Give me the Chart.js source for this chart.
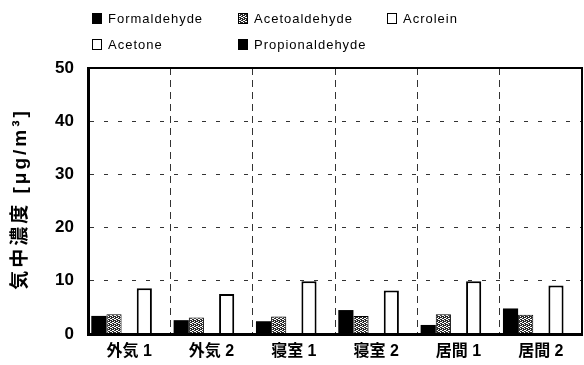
<!DOCTYPE html>
<html>
<head>
<meta charset="utf-8">
<title>気中濃度</title>
<script src="https://cdn.jsdelivr.net/npm/chart.js@4/dist/chart.umd.min.js"></script>
<style>
  html, body { margin: 0; padding: 0; background: #fff; }
  #wrap { position: relative; width: 584px; height: 365px; }
  #legend {
    position: absolute; left: 0; top: 0; width: 584px; height: 60px;
    font: 13px "Liberation Sans", Arial, sans-serif; letter-spacing: 1px; color: #000;
  }
  .item { position: absolute; display: flex; align-items: center; height: 16px; white-space: nowrap; }
  .sw { width: 10px; height: 11px; box-sizing: border-box; border: 1px solid #000; margin-right: 6px; }
  #ytitle {
    position: absolute; left: 16px; top: 199px; width: 220px; height: 24px;
    margin-left: -110px; margin-top: -12px; line-height: 24px; text-align: center;
    transform: rotate(-90deg); white-space: nowrap;
    font: bold 19px "Liberation Sans", Arial, "Noto Sans CJK JP", sans-serif;
    letter-spacing: 3px; color: #000;
  }
</style>
</head>
<body>
<div id="wrap">
  <canvas id="chart" width="584" height="365"></canvas>
  <div id="legend"></div>
  <div id="ytitle">気中濃度 [μg/m³]</div>
</div>
<script>
/* ── data ── */
const sites = ['外気 1', '外気 2', '寝室 1', '寝室 2', '居間 1', '居間 2'];
const formaldehyde    = [3.4, 2.6, 2.4, 4.5, 1.7, 4.8];
const acetoaldehyde   = [3.7, 3.1, 3.3, 3.4, 3.7, 3.6];
const acrolein        = [0, 0, 0, 0, 0, 0];
const acetone         = [8.6, 7.5, 9.9, 8.2, 9.9, 9.1];
const propionaldehyde = [0, 0, 0, 0, 0, 0];
const yMax = 50, yStep = 10;

const FONT = '"Liberation Sans", Arial, "Noto Sans CJK JP", sans-serif';

/* speckled fill for the acetoaldehyde bars */
function speckle() {
  const c = document.createElement('canvas');
  c.width = 4; c.height = 4;
  const g = c.getContext('2d');
  g.fillStyle = '#2a2a2a';
  g.fillRect(0, 0, 4, 4);
  g.fillStyle = '#fff';
  [[0,0],[2,1],[1,2],[3,3],[2,3],[0,2]].forEach(([x, y]) => g.fillRect(x, y, 1, 1));
  return c;
}
const speckleCanvas = speckle();
const ctx = document.getElementById('chart').getContext('2d');
const specklePattern = ctx.createPattern(speckleCanvas, 'repeat');

const series = [
  { label: 'Formaldehyde',    data: formaldehyde,    fill: '#000', css: '#000', border: 0 },
  { label: 'Acetoaldehyde',   data: acetoaldehyde,   fill: specklePattern, css: 'url(' + speckleCanvas.toDataURL() + ')', border: 1 },
  { label: 'Acrolein',        data: acrolein,        fill: '#fff', css: '#fff', border: 2 },
  { label: 'Acetone',         data: acetone,         fill: '#fff', css: '#fff', border: 2 },
  { label: 'Propionaldehyde', data: propionaldehyde, fill: '#000', css: '#000', border: 0 }
];

/* outer frame of the plot area */
const frame = {
  id: 'frame',
  afterDraw(chart) {
    const { ctx, chartArea: a } = chart;
    ctx.save();
    ctx.strokeStyle = '#000';
    ctx.lineWidth = 2;
    ctx.strokeRect(a.left, a.top, a.right - a.left, a.bottom - a.top);
    ctx.restore();
  }
};

new Chart(ctx, {
  type: 'bar',
  data: {
    labels: sites,
    datasets: series.map(s => ({
      label: s.label, data: s.data,
      backgroundColor: s.fill, borderColor: '#000', borderWidth: s.border,
      categoryPercentage: 0.92, barPercentage: 1
    }))
  },
  options: {
    responsive: false, animation: false,
    layout: { padding: { top: 68, right: 2, left: 0, bottom: 0 } },
    plugins: { legend: { display: false }, tooltip: { enabled: false } },
    scales: {
      x: {
        afterFit: s => { s.height = 31; },
        grid: { color: '#333', lineWidth: 1, drawTicks: false },
        border: { color: '#000', width: 3, dash: [7, 5] },
        ticks: { color: '#000', padding: 8, font: { family: FONT, size: 16, weight: 'bold' } }
      },
      y: {
        min: 0, max: yMax,
        afterFit: s => { s.width = 88; },
        grid: { color: '#333', lineWidth: 1, drawTicks: false },
        border: { color: '#000', width: 3, dash: [4, 10] },
        ticks: { stepSize: yStep, color: '#000', padding: 14, font: { family: FONT, size: 17, weight: 'bold' } }
      }
    }
  },
  plugins: [frame]
});

/* legend laid out in two rows of three columns */
const legendPos = [[92, 10], [238, 10], [387, 10], [92, 36], [238, 36]];
const legend = document.getElementById('legend');
series.forEach((s, i) => {
  const it = document.createElement('div');
  it.className = 'item';
  it.style.left = legendPos[i][0] + 'px';
  it.style.top = legendPos[i][1] + 'px';
  const sw = document.createElement('span');
  sw.className = 'sw';
  sw.style.background = s.css;
  it.appendChild(sw);
  it.appendChild(document.createTextNode(s.label));
  legend.appendChild(it);
});
</script>
</body>
</html>
